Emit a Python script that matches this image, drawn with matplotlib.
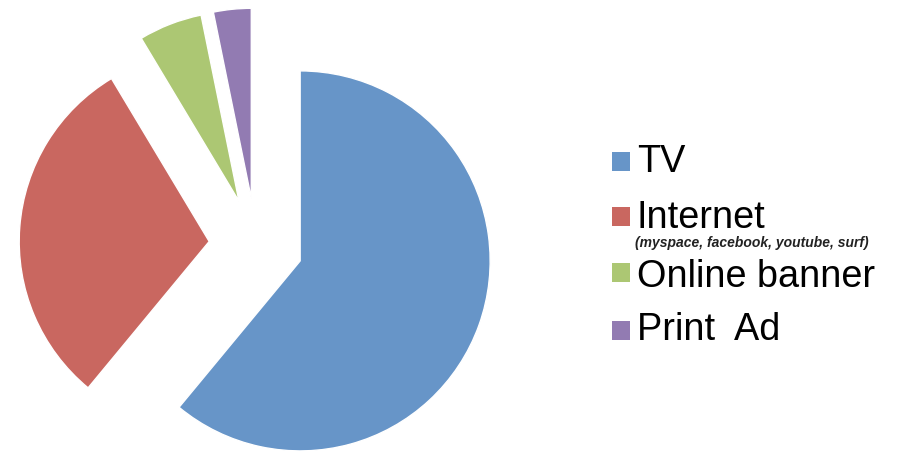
import matplotlib
matplotlib.use("Agg")
import matplotlib.pyplot as plt
from matplotlib.patches import Rectangle

# ad channel shares (percent)
labels = ["TV", "Internet", "Online banner", "Print  Ad"]
shares = [61.0, 30.4, 5.4, 3.2]
colors = ["#6795c8", "#c96760", "#acc773", "#927bb2"]
internet_note = "(myspace, facebook, youtube, surf)"

W, H = 898, 456
fig = plt.figure(figsize=(W / 100, H / 100), dpi=100)
ax = fig.add_axes([0, 0, 1, 1])

# pie center at pixel (256, 246), radius 190 px
cx, cy, r = 256, 246, 190
ax.pie(shares, colors=colors, startangle=90, counterclock=False,
       explode=[0.247] * len(shares), radius=1.0,
       wedgeprops=dict(edgecolor="white", linewidth=1))
ax.set_xlim(-cx / r, (W - cx) / r)
ax.set_ylim(-(H - cy) / r, cy / r)
ax.set_aspect("auto")
ax.axis("off")

# legend drawn by hand (pixel positions)
baselines = [172, 228, 287, 340]
box_tops = [153, 208, 264, 322]
for lab, col, base, top in zip(labels, colors, baselines, box_tops):
    fig.patches.append(Rectangle((612 / W, 1 - (top + 19) / H), 18 / W, 19 / H,
                                 transform=fig.transFigure, facecolor=col,
                                 edgecolor="none"))
    fig.text(637 / W, 1 - base / H, lab, fontsize=27.3, va="baseline",
             family="Liberation Sans", color="black")

fig.text(635 / W, 1 - 247 / H, internet_note, fontsize=10, va="baseline",
         family=["Liberation Sans Narrow", "Liberation Sans"], style="italic",
         weight="bold", color="#222222")

fig.savefig("out.png", dpi=100, facecolor="white")
